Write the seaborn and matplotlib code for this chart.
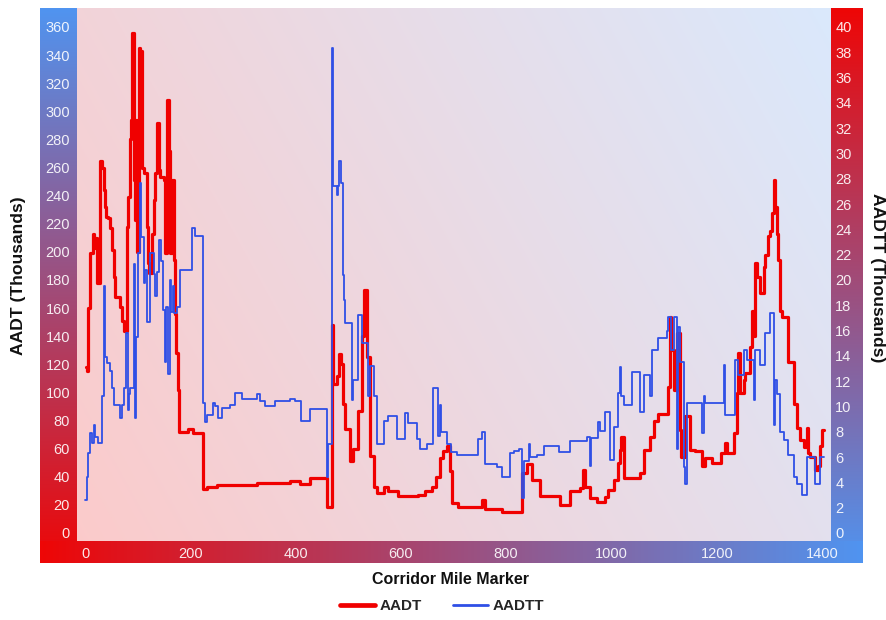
import numpy as np
import pandas as pd
import matplotlib
matplotlib.use("Agg")
import matplotlib.pyplot as plt
import seaborn as sns
from matplotlib.lines import Line2D

# ---------------- data ----------------
aadt_mile = [2.5, 4, 5.7, 10.1, 15.2, 17.7, 19.6, 22.8, 29.1, 32.3, 35.5, 38.6, 40.5, 43.7,
             48.2, 51.3, 54.5, 57.6, 67.1, 70.3, 73.5, 79.8, 81.7, 84.9, 87.4, 89.3, 92.4,
             95.6, 97.5, 99.5, 101.9, 105.1, 108.3, 111.4, 117.8, 119, 121, 127.3, 130.4,
             133.6, 136.8, 140, 143.1, 149.5, 152.7, 155.8, 159, 162.1, 165.3, 168.5, 170.4,
             173.6, 176.1, 178, 196, 205, 224, 232, 250, 326, 389, 408, 427, 459, 470, 472,
             478, 483, 486, 490, 494, 503, 510, 519, 526, 529, 535, 541, 548, 554, 567, 576,
             595, 633, 646, 659, 667, 674, 680, 687, 693, 698, 709, 754, 760, 792, 830, 840,
             849, 864, 902, 921, 940, 946, 949, 959, 972, 988, 994, 1004, 1013, 1016, 1019,
             1023, 1054, 1061, 1073, 1080, 1089, 1108, 1111, 1114, 1118, 1124, 1130, 1133,
             1140, 1149, 1159, 1172, 1178, 1191, 1209, 1215, 1219, 1232, 1238, 1241, 1244,
             1251, 1254, 1263, 1266, 1270, 1273, 1276, 1282, 1289, 1292, 1298, 1302, 1305,
             1308, 1311, 1314, 1317, 1320, 1323, 1336, 1346, 1352, 1358, 1365, 1371, 1374,
             1377, 1387, 1393, 1396, 1399]
aadt_value = [118, 115, 160, 199, 213, 203, 210, 178, 265, 260, 244, 232, 225, 224,
              217, 201, 182, 168, 161, 151, 144, 218, 239, 280, 294, 356, 251,
              223, 294, 200, 345, 343, 260, 256, 218, 192, 185, 213, 237,
              256, 292, 258, 253, 251, 199, 308, 272, 199, 251, 194, 156,
              128, 102, 72, 74, 71, 31, 33, 34, 35.5, 37, 35, 39, 18.5, 148, 106,
              112, 127, 120, 92, 74, 51, 60, 87, 140, 173, 125, 55, 33, 28.5, 33, 30,
              26, 27, 30, 33, 40, 53, 58, 62, 44, 21, 18.5, 23.5, 17, 14.6, 43, 49,
              37.7, 26, 20, 30, 32, 45, 33, 25, 22, 25.6, 30.6, 37.7, 49.6, 59, 68,
              39, 43, 59, 68, 80, 85, 104, 154, 130, 102, 142, 73, 54,
              83, 59, 58, 48, 53, 50, 57, 64, 57, 71, 99.5, 128, 99.5,
              109, 114, 132, 158, 140, 192, 182, 171, 189, 198, 211, 215, 228,
              251, 232, 213, 194, 158, 154, 122, 92, 75, 66, 61, 75, 57,
              54, 45, 48, 62, 73]

aadtt_mile = [0.6, 3.8, 5.7, 10.1, 13.3, 16.5, 19.6, 24, 32.3, 35.5, 38.6, 41.8, 48.2, 51.3,
              54.5, 67.1, 70.3, 73.5, 78.5, 81, 84.5, 86.1, 92.4, 95.6, 97.5, 100, 103.8,
              107, 111.4, 114.6, 117.8, 124.1, 130.4, 133.6, 136.8, 140, 144.5, 148.2,
              151.4, 154.5, 157, 160.9, 163.5, 166.5, 169.7, 174.8, 181.1, 202.6, 209,
              224.8, 228, 231, 243.8, 247, 253, 259.6, 275.5, 285, 297.6, 326, 333, 342,
              361, 389, 398, 411, 427, 459, 462, 470, 472, 478, 481, 483, 486, 490, 492,
              494, 507, 510, 519, 526, 538, 541, 548, 554, 567, 576, 592, 608, 614, 630,
              636, 649, 661, 671, 674, 677, 687, 696, 706, 747, 754, 760, 782, 792, 808,
              814, 824, 830, 833, 843, 846, 859, 871, 900, 921, 953, 959, 962, 975, 978,
              988, 997, 1004, 1013, 1016, 1019, 1023, 1039, 1054, 1061, 1073, 1077, 1089,
              1105, 1108, 1114, 1118, 1124, 1127, 1130, 1137, 1140, 1143, 1172, 1175,
              1178, 1213, 1216, 1235, 1241, 1251, 1257, 1270, 1273, 1282, 1292, 1301,
              1308, 1311, 1314, 1320, 1327, 1336, 1346, 1352, 1361, 1371, 1387, 1396]
aadtt_value = [2.6, 4.4, 6.3, 7.9, 7.1, 8.5, 7.6, 7.1, 10.8, 19.5, 13.9, 13.4, 12.8, 11.5,
               10.1, 9.1, 10.1, 11.5, 15.8, 9.7, 11.0, 11.5, 21.3, 9.1, 15.5, 22.1, 27.7,
               23.4, 19.8, 20.8, 16.7, 22.1, 20.5, 18.7, 20.6, 23.2, 21.5, 17.6,
               13.5, 17.9, 12.6, 20, 17.5, 19.5, 17.4, 17.9, 20.8, 24.1, 23.5,
               10.3, 8.8, 9.3, 10.3, 10.0, 9.1, 9.9, 10.1, 11.1, 10.6, 11, 10.4, 10,
               10.4, 10.6, 10.4, 8.85, 9.8, 4.4, 7.0, 38.3, 27.4, 26.7, 27.4, 29.4, 27.7, 20.4, 18.4,
               16.6, 10.5, 12.1, 17.2, 15.0, 10.8, 13.2, 10.8, 7, 8.85, 9.25, 7.4, 9.5, 8.7, 7.4,
               6.6, 7, 11.5, 7.7, 10.1, 8, 7, 6.4, 6.2, 7.4, 8, 5.45, 5.2, 4.4, 6.3,
               6.5, 6.6, 2.8, 5.7, 7, 6, 6.2, 6.9, 6.4, 7.3, 7.6, 5.3, 7.5, 8.8, 8.1,
               9.6, 5.8, 8.4, 11.1, 13.1, 10.8, 10.1, 12.7, 9.6, 12.5, 10.8, 14.5, 15.4,
               16, 17.1, 14.5, 17.1, 6.6, 16.3, 13.5, 5.2, 3.9, 10.3, 7.9, 10.8,
               10.3, 13.3, 9.3, 13.7, 12.5, 14.5, 13.7, 10.5, 14.5, 13.3, 15.8, 17.4,
               8.5, 12.1, 11, 8, 7.35, 6.2, 4.4, 3.9, 3.0, 6, 3.9, 6]
end_mile = 1403

x_ticks = [0, 200, 400, 600, 800, 1000, 1200, 1400]
left_ticks = list(range(0, 361, 20))
right_ticks = list(range(0, 41, 2))
series_names = ["AADT", "AADTT"]

# ---------------- styling ----------------
sns.set_theme(style="white")
plt.rcParams['font.family'] = ['Liberation Sans', 'DejaVu Sans']

W, H = 886, 620
fig = plt.figure(figsize=(W / 100, H / 100), dpi=100)


def box(x0, y0, x1, y1):
    return [x0 / W, 1 - y1 / H, (x1 - x0) / W, (y1 - y0) / H]


RED = np.array([238, 6, 6]) / 255
BLUE = np.array([80, 148, 240]) / 255
LINE_RED = "#f00000"
LINE_BLUE = "#2f4fe6"


def strip(rect, c_start, c_end, vertical, z):
    a = fig.add_axes(rect, zorder=z)
    t = np.linspace(0, 1, 256)
    cols = c_start[None, :] * (1 - t[:, None]) + c_end[None, :] * t[:, None]
    img = cols[:, None, :] if vertical else cols[None, :, :]
    a.imshow(img, aspect='auto', extent=[0, 1, 0, 1], origin='upper')
    a.set_axis_off()
    return a


PL, PT, PR, PB = 77, 8, 831, 541
FL, FR, FB = 40, 863, 563
strip(box(FL, PT, PL, FB), BLUE, RED, True, 1)     # left: blue top -> red bottom
strip(box(PR, PT, FR, FB), RED, BLUE, True, 1)     # right: red top -> blue bottom
strip(box(FL, PB, FR, FB), RED, BLUE, False, 1)    # bottom: red left -> blue right

# plot-area background gradient
bg = fig.add_axes(box(PL, PT, PR, PB), zorder=1)
u = np.linspace(0, 1, 300)[None, :]
v = np.linspace(1, 0, 200)[:, None]
t = np.clip(0.72 * u + 0.28 * v, 0, 1)
base = RED[None, None, :] * (1 - t[..., None]) + BLUE[None, None, :] * t[..., None]
alpha = 0.21
img = 1 * (1 - alpha) + base * alpha
bg.imshow(img, aspect='auto', extent=[0, 1, 0, 1], origin='upper')
bg.set_axis_off()

ax = fig.add_axes(box(PL, PT, PR, PB), zorder=3)
ax.patch.set_visible(False)

df_a = pd.DataFrame({"mile": aadt_mile + [end_mile], "value": aadt_value + [aadt_value[-1]]})
df_t = pd.DataFrame({"mile": aadtt_mile + [end_mile], "value": aadtt_value + [aadtt_value[-1]]})

sns.lineplot(data=df_a, x="mile", y="value", ax=ax, color=LINE_RED, lw=2.3,
             drawstyle="steps-post", estimator=None, sort=False)

ax2 = ax.twinx()
ax2.set_zorder(4)
ax2.patch.set_visible(False)
sns.lineplot(data=df_t, x="mile", y="value", ax=ax2, color=LINE_BLUE, lw=1.3,
             drawstyle="steps-post", estimator=None, sort=False)

ax.set_xlim(-15.2, 1417)
ax.set_ylim(-5.7, 373.5)
ax2.set_ylim(-5.7 / 9, 373.5 / 9)
ax.set_xticks(x_ticks)
ax.set_yticks(left_ticks)
ax2.set_yticks(right_ticks)
ax.set_xticklabels([str(v) for v in x_ticks])
ax.set_yticklabels([str(v) for v in left_ticks])
ax2.set_yticklabels([str(v) for v in right_ticks])
ax.set_xlabel("")
ax.set_ylabel("")
ax2.set_ylabel("")
for a in (ax, ax2):
    for s in a.spines.values():
        s.set_visible(False)
    a.grid(False)

tick_col = (1, 1, 1, 0.9)
ax.tick_params(axis='y', length=0, pad=5, labelsize=10.5, labelcolor=tick_col)
ax.tick_params(axis='x', length=0, pad=4, labelsize=10.5, labelcolor=tick_col)
ax2.tick_params(axis='y', length=0, pad=3, labelsize=10.5, labelcolor=tick_col)

fig.text(19 / W, 1 - 276 / H, "AADT (Thousands)", rotation=90, ha='center', va='center',
         fontsize=12.6, fontweight='bold', color='#111111')
fig.text(877 / W, 1 - 278 / H, "AADTT (Thousands)", rotation=-90, ha='center', va='center',
         fontsize=12.6, fontweight='bold', color='#111111')
fig.text(451 / W, 1 - 580 / H, "Corridor Mile Marker", ha='center', va='center',
         fontsize=11.5, fontweight='bold', color='#111111')

handles = [Line2D([], [], color=LINE_RED, lw=3.4), Line2D([], [], color=LINE_BLUE, lw=2.0)]
fig.legend(handles, series_names, loc='center', bbox_to_anchor=(442 / W, 1 - 606 / H), ncol=2,
           frameon=False, prop=dict(weight='bold', size=11), handlelength=2.3,
           handletextpad=0.3, columnspacing=2.0)

fig.savefig("out.png", dpi=100)
